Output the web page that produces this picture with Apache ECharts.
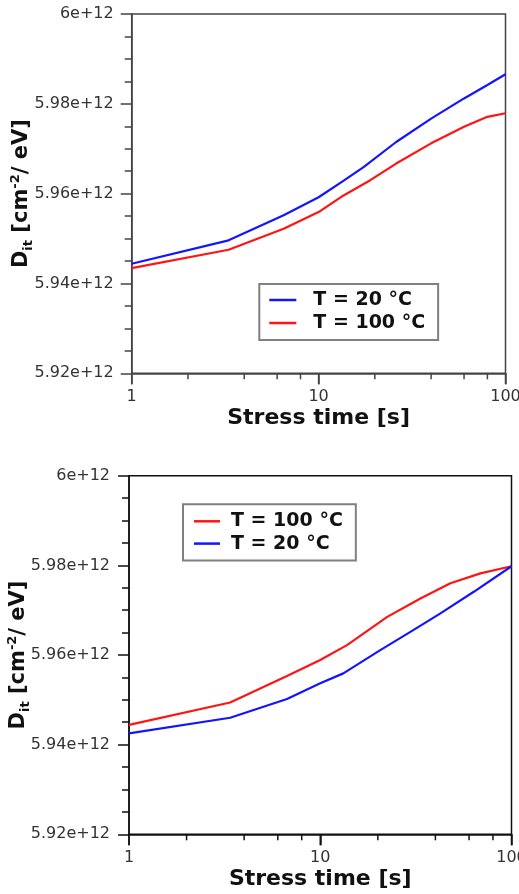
<!DOCTYPE html>
<html>
<head>
<meta charset="utf-8">
<script src="https://cdn.jsdelivr.net/npm/echarts@6/dist/echarts.min.js"></script>
<style>
  html, body { margin: 0; padding: 0; background: #fff; }
  #chart { width: 519px; height: 894px; }
</style>
</head>
<body>
<div id="chart"></div>
<script>
// Interface trap density vs. stress time, two stress conditions per panel.
const topTime20 = [1, 3.3, 6.5, 10, 13.5, 17.4, 26, 40, 60, 80, 100];
const topDit20 = [5.9444e12, 5.9496e12, 5.9552e12, 5.9592e12, 5.9628e12, 5.9659e12, 5.9715e12, 5.9767e12, 5.9812e12, 5.9842e12, 5.9866e12];
const topTime100 = [1, 3.3, 6.5, 10, 13.6, 18.9, 26, 40, 60, 80, 100];
const topDit100 = [5.9434e12, 5.9475e12, 5.9522e12, 5.9559e12, 5.9596e12, 5.9630e12, 5.9667e12, 5.9712e12, 5.9749e12, 5.9771e12, 5.9779e12];

const botTime100 = [1, 3.38, 6.7, 10, 13.8, 22.4, 33.4, 47.9, 68.8, 100];
const botDit100 = [5.9444e12, 5.9494e12, 5.9553e12, 5.9589e12, 5.9622e12, 5.9685e12, 5.9726e12, 5.9760e12, 5.9782e12, 5.9798e12];
const botTime20 = [1, 3.38, 6.7, 10, 13.2, 20.6, 30.8, 42.5, 63.5, 100];
const botDit20 = [5.9425e12, 5.9460e12, 5.9502e12, 5.9537e12, 5.9559e12, 5.9611e12, 5.9656e12, 5.9693e12, 5.9741e12, 5.9798e12];

const majorTimeTicks = [1, 10, 100];
const minorTimeTicks = [2, 4, 6, 8, 20, 40, 60, 80];
const DIT_MIN = 5.92e12;
const DIT_MAX = 6e12;
const DIT_STEP = 0.02e12;
const name20 = 'T = 20 °C';
const name100 = 'T = 100 °C';

const BLUE = '#1414ff';
const RED = '#ff1414';
const FONT = 'DejaVu Sans';

const pairs = (xs, ys) => xs.map((x, i) => [x, ys[i]]);

function mainX(grid, color) {
  return {
    type: 'log', logBase: 10, gridIndex: grid, min: 1, max: 100, position: 'bottom',
    name: 'Stress time [s]', nameLocation: 'middle', nameGap: 34, nameMoveOverlap: false,
    nameTextStyle: { fontFamily: FONT, fontWeight: 'bold', fontSize: 22, color: '#111' },
    axisLine: { lineStyle: { color: color, width: 1.5 } },
    axisTick: { show: true, length: 11, lineStyle: { color: color, width: 1.5 } },
    minorTick: { show: false },
    splitLine: { show: false },
    axisLabel: { fontFamily: FONT, fontSize: 16, color: '#333', margin: 16 }
  };
}
function yAx(grid, color, margin) {
  return {
    type: 'value', gridIndex: grid, min: DIT_MIN, max: DIT_MAX, interval: DIT_STEP,
    name: '{b|D}{sub|it}{b| [cm}{sup|-2}{b|/ eV]}',
    nameLocation: 'middle', nameGap: 97, nameMoveOverlap: false,
    nameTextStyle: {
      rich: {
        b: { fontFamily: FONT, fontWeight: 'bold', fontSize: 21, color: '#111', lineHeight: 26 },
        sub: { fontFamily: FONT, fontWeight: 'bold', fontSize: 13, color: '#111', verticalAlign: 'bottom', lineHeight: 26, padding: [8, 0, 0, 0] },
        sup: { fontFamily: FONT, fontWeight: 'bold', fontSize: 13, color: '#111', verticalAlign: 'top', lineHeight: 26, padding: [0, 0, 8, 0] }
      }
    },
    axisLine: { show: true, lineStyle: { color: color, width: 1.5 } },
    axisTick: { show: true, length: 11, lineStyle: { color: color, width: 1.5 } },
    minorTick: { show: true, splitNumber: 4, length: 7, lineStyle: { color: color, width: 1.5 } },
    splitLine: { show: false },
    axisLabel: {
      fontFamily: FONT, fontSize: 16, color: '#333', margin: margin,
      formatter: v => Number((v / 1e12).toFixed(2)) + 'e+12'
    }
  };
}
function lineSeries(name, xi, yi, data, color) {
  return {
    type: 'line', name: name, xAxisIndex: xi, yAxisIndex: yi, data: data,
    showSymbol: false, symbol: 'none', smooth: false,
    lineStyle: { color: color, width: 2.2 }, itemStyle: { color: color }
  };
}
// Tick marks hanging below the log time axis
function tickSeries(xi, yi, values, len, color) {
  return {
    type: 'scatter', xAxisIndex: xi, yAxisIndex: yi, clip: false, silent: true,
    data: values.map(t => [t, DIT_MIN]),
    symbol: 'rect', symbolSize: [1.5, len], symbolOffset: [0, len / 2],
    itemStyle: { color: color, opacity: 1 },
    z: 5
  };
}
function legend(items, left, top, padding, itemWidth, textPad, gap) {
  return {
    orient: 'vertical', left: left, top: top, data: items,
    icon: 'rect', itemWidth: itemWidth, itemHeight: 2.5, itemGap: gap,
    padding: padding, borderColor: '#808080', borderWidth: 2, borderRadius: 0,
    backgroundColor: '#fff', selectedMode: false,
    textStyle: { fontFamily: FONT, fontWeight: 'bold', fontSize: 19, color: '#111', lineHeight: 20, padding: [0, 0, 0, textPad] }
  };
}

const chart = echarts.init(document.getElementById('chart'));
chart.setOption({
  animation: false,
  backgroundColor: '#fff',
  grid: [
    { left: 131.7, right: 13.5, top: 14, height: 359.3, show: true, borderColor: '#444', borderWidth: 1.5, backgroundColor: 'transparent', containLabel: false, outerBoundsMode: 'none' },
    { left: 129, right: 7.5, top: 475.7, height: 358.6, show: true, borderColor: '#111', borderWidth: 1.5, backgroundColor: 'transparent', containLabel: false, outerBoundsMode: 'none' }
  ],
  xAxis: [mainX(0, '#444'), mainX(1, '#111')],
  yAxis: [yAx(0, '#444', 18), yAx(1, '#111', 19)],
  legend: [
    legend([name20, name100], 259.3, 284, [6, 13, 7, 10], 27, 12, 3),
    legend([name100, name20], 183, 504.3, [7, 13, 7, 11], 26, 6, 2.3)
  ],
  series: [
    lineSeries(name100, 0, 0, pairs(topTime100, topDit100), RED),
    lineSeries(name20, 0, 0, pairs(topTime20, topDit20), BLUE),
    lineSeries(name100, 1, 1, pairs(botTime100, botDit100), RED),
    lineSeries(name20, 1, 1, pairs(botTime20, botDit20), BLUE),
    tickSeries(0, 0, majorTimeTicks, 11, '#444'),
    tickSeries(0, 0, minorTimeTicks, 6, '#444'),
    tickSeries(1, 1, majorTimeTicks, 11, '#111'),
    tickSeries(1, 1, minorTimeTicks, 6, '#111')
  ]
});
</script>
</body>
</html>
